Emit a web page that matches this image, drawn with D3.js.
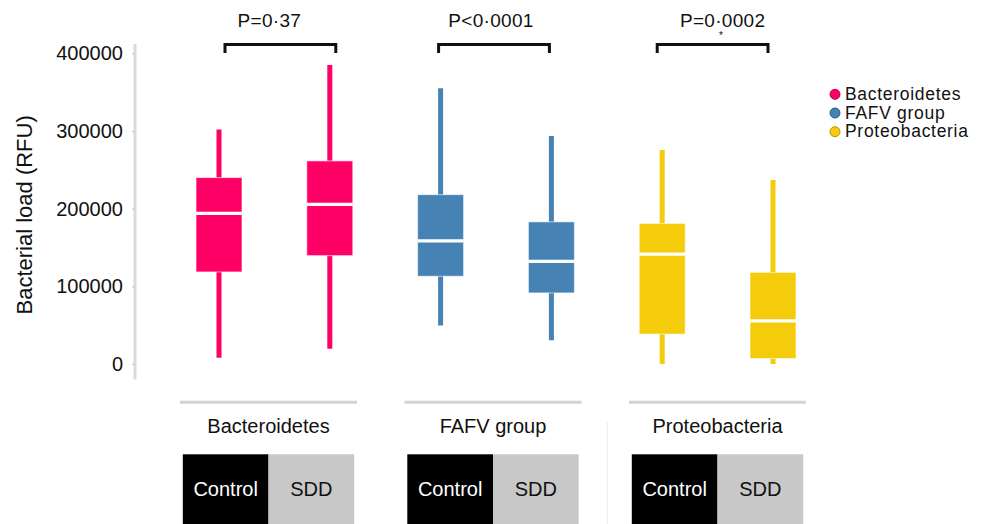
<!DOCTYPE html>
<html>
<head>
<meta charset="utf-8">
<script src="https://cdn.jsdelivr.net/npm/d3@7"></script>
<style>
  html, body { margin: 0; padding: 0; background: #fff; }
  svg { display: block; font-family: "Liberation Sans", Arial, sans-serif; }
</style>
</head>
<body>
<svg id="chart" width="989" height="524"></svg>
<script>
// ---------- data ----------
const groups = ["Bacteroidetes", "FAFV group", "Proteobacteria"];
const conditions = ["Control", "SDD"];
const colors = ["#ff0066", "#4682b4", "#f4cc0b"];
const legendStroke = ["#b3004a", "#2c5b84", "#b39400"];
// per box, order: Bact-Control, Bact-SDD, FAFV-Control, FAFV-SDD, Proteo-Control, Proteo-SDD
const whiskerMin = [8000, 19500, 49500, 30500, 0, 0];
const q1 = [118500, 139500, 113000, 91500, 38500, 7000];
const median = [194000, 205500, 158500, 132000, 141500, 55500];
const q3 = [240000, 261500, 218000, 183000, 181000, 118000];
const whiskerMax = [302000, 385000, 355000, 293500, 275500, 237000];
const pLabels = ["P=0\u00B737", "P<0\u00B70001", "P=0\u00B70002"];
const yTicks = [0, 100000, 200000, 300000, 400000];

// ---------- layout ----------
const svg = d3.select("#chart");
const boxKeys = [];
groups.forEach(g => conditions.forEach(c => boxKeys.push(g + "|" + c)));
const boxes = boxKeys.map((k, i) => ({
  key: k, group: i >> 1, cond: i % 2,
  min: whiskerMin[i], q1: q1[i], med: median[i], q3: q3[i], max: whiskerMax[i]
}));

const y = d3.scaleLinear().domain([0, 400000]).range([364, 53.3]);
const x = d3.scalePoint().domain(boxKeys).range([219, 773]);
const xTable = d3.scalePoint().domain(groups).range([268.5, 717.5]);
const boxW = 46;

// ---------- y axis ----------
svg.append("line")
  .attr("x1", 135).attr("x2", 135)
  .attr("y1", y(412000)).attr("y2", y(-20000))
  .attr("stroke", "#d9d9d9").attr("stroke-width", 3);

const yAxis = svg.append("g")
  .attr("transform", "translate(135,0)")
  .call(d3.axisLeft(y).tickValues(yTicks).tickFormat(d3.format("d")).tickSize(3).tickPadding(9));
yAxis.select(".domain").remove();
yAxis.selectAll(".tick line").attr("stroke", "#d0d0d0").attr("stroke-width", 1.5);
yAxis.selectAll(".tick text")
  .attr("fill", "#111").style("font-size", "20px")
  .attr("font-family", "Liberation Sans, Arial, sans-serif");

svg.append("text")
  .attr("transform", "translate(32," + y(192000) + ") rotate(-90)")
  .attr("text-anchor", "middle")
  .style("font-size", "22px").attr("fill", "#111")
  .text("Bacterial load (RFU)");

// ---------- boxes ----------
const bx = svg.append("g");
const bg = bx.selectAll("g.box").data(boxes).join("g").attr("class", "box");
bg.append("line")
  .attr("x1", d => x(d.key)).attr("x2", d => x(d.key))
  .attr("y1", d => y(d.max)).attr("y2", d => y(d.min))
  .attr("stroke", d => colors[d.group]).attr("stroke-width", 5);
bg.append("rect")
  .attr("x", d => x(d.key) - boxW / 2).attr("width", boxW)
  .attr("y", d => y(d.q3)).attr("height", d => y(d.q1) - y(d.q3))
  .attr("fill", d => colors[d.group])
  .attr("stroke", "rgba(255,255,255,0.6)").attr("stroke-width", 1);
bg.append("line")
  .attr("x1", d => x(d.key) - boxW / 2).attr("x2", d => x(d.key) + boxW / 2)
  .attr("y1", d => y(d.med)).attr("y2", d => y(d.med))
  .attr("stroke", "#fff").attr("stroke-width", 3.2);

// ---------- brackets & p-values ----------
const bracketDx = [6, -2, -5];
const labelDx = [-5, -5, 5];
groups.forEach((g, i) => {
  const xa = x(g + "|Control") + bracketDx[i];
  const xb = x(g + "|SDD") + bracketDx[i];
  svg.append("path")
    .attr("d", `M${xa},53 V44.5 H${xb} V53`)
    .attr("fill", "none").attr("stroke", "#111").attr("stroke-width", 3);
  const cx = (x(g + "|Control") + x(g + "|SDD")) / 2 + labelDx[i];
  svg.append("text")
    .attr("x", cx).attr("y", 27)
    .attr("text-anchor", "middle")
    .style("font-size", "19px").style("letter-spacing", "0.3px").attr("fill", "#111")
    .text(pLabels[i]);
});
svg.append("text")
  .attr("x", 721).attr("y", 39)
  .attr("text-anchor", "middle")
  .style("font-size", "10px").attr("fill", "#111")
  .text("*");

// ---------- legend ----------
const lg = svg.append("g");
groups.forEach((g, i) => {
  const cy = 94.3 + i * 18.7;
  lg.append("circle").attr("cx", 835).attr("cy", cy).attr("r", 5)
    .attr("fill", colors[i]).attr("stroke", legendStroke[i]).attr("stroke-width", 1);
  lg.append("text").attr("x", 845).attr("y", cy + 5.5)
    .style("font-size", "17.5px").style("letter-spacing", "0.7px").attr("fill", "#111")
    .text(g);
});

// ---------- bottom table ----------
const tb = svg.append("g");
const lineW = 177, cellW = 85.7;
groups.forEach((g, i) => {
  const cx = xTable(g);
  tb.append("line")
    .attr("x1", cx - lineW / 2).attr("x2", cx + lineW / 2)
    .attr("y1", 402.3).attr("y2", 402.3)
    .attr("stroke", "#d3d3d3").attr("stroke-width", 3);
  tb.append("text")
    .attr("x", cx).attr("y", 433)
    .attr("text-anchor", "middle")
    .style("font-size", "20px").attr("fill", "#111")
    .text(g);
  conditions.forEach((c, j) => {
    const x0 = cx - cellW + j * cellW;
    tb.append("rect")
      .attr("x", x0).attr("y", 454.3).attr("width", cellW).attr("height", 80)
      .attr("fill", j === 0 ? "#000" : "#c8c8c8");
    tb.append("text")
      .attr("x", x0 + cellW / 2).attr("y", 495.5)
      .attr("text-anchor", "middle")
      .style("font-size", "20px").attr("fill", j === 0 ? "#fff" : "#111")
      .text(c);
  });
});
// faint separator
tb.append("line")
  .attr("x1", (xTable(groups[1]) + xTable(groups[2])) / 2 + 2)
  .attr("x2", (xTable(groups[1]) + xTable(groups[2])) / 2 + 2)
  .attr("y1", 422).attr("y2", 524)
  .attr("stroke", "#ececec").attr("stroke-width", 1);
</script>
</body>
</html>
